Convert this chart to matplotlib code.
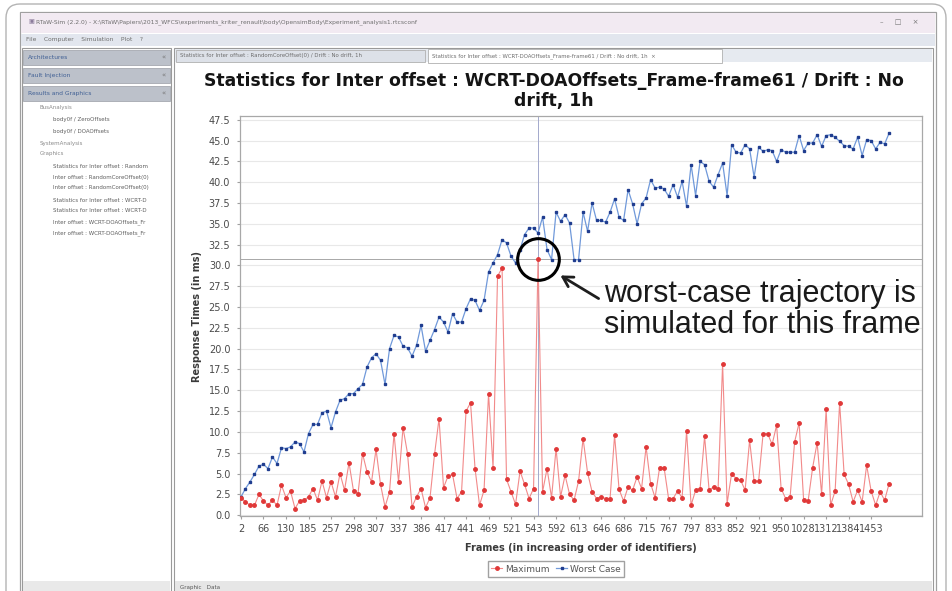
import matplotlib
matplotlib.use('Agg')
import matplotlib.pyplot as plt
import numpy as np
from matplotlib.patches import Rectangle, FancyBboxPatch
from matplotlib.transforms import IdentityTransform

W, H = 952, 591

# frame identifiers shown under every 5th category
frame_labels = ['2', '66', '130', '185', '257', '298', '307', '337', '386', '417',
                '441', '469', '521', '543', '592', '613', '646', '686', '715', '767',
                '797', '833', '852', '921', '950', '1028', '1312', '1384', '1453']

# response times (ms), one value per frame
worst_case = [2.2, 3.2, 4.0, 4.9, 5.9, 6.1, 5.6, 7.0, 6.2, 8.1,
              8.0, 8.2, 8.8, 8.6, 7.6, 9.8, 10.9, 10.9, 12.3, 12.5,
              10.5, 12.4, 13.8, 14.0, 14.6, 14.6, 15.2, 15.7, 17.8, 18.9,
              19.4, 18.6, 15.7, 20.0, 21.6, 21.4, 20.3, 20.1, 19.1, 20.4,
              22.8, 19.7, 21.0, 22.3, 23.8, 23.2, 22.0, 24.2, 23.2, 23.2,
              24.8, 26.0, 25.8, 24.6, 25.8, 29.2, 30.3, 31.3, 33.1, 32.7,
              31.1, 30.3, 31.9, 33.7, 34.5, 34.5, 33.9, 35.8, 31.9, 30.7,
              36.4, 35.3, 36.1, 35.1, 30.7, 30.7, 36.4, 34.1, 37.5, 35.4,
              35.4, 35.2, 36.4, 38.0, 35.8, 35.4, 39.1, 37.4, 35.0, 37.4,
              38.1, 40.3, 39.3, 39.4, 39.2, 38.3, 39.7, 38.2, 40.1, 37.1,
              42.1, 38.4, 42.5, 42.1, 40.1, 39.4, 40.9, 42.3, 38.4, 44.5,
              43.6, 43.5, 44.5, 44.0, 40.6, 44.2, 43.7, 43.9, 43.8, 42.5,
              43.9, 43.6, 43.6, 43.6, 45.6, 43.8, 44.7, 44.7, 45.7, 44.3,
              45.6, 45.7, 45.4, 44.9, 44.4, 44.3, 44.0, 45.4, 43.2, 45.1,
              45.0, 44.0, 44.8, 44.6, 45.9]

maximum = [2.1, 1.6, 1.2, 1.2, 2.5, 1.7, 1.2, 1.8, 1.2, 3.6,
           2.1, 2.9, 0.8, 1.7, 1.8, 2.2, 3.2, 1.8, 4.1, 2.1,
           4.0, 2.2, 5.0, 3.0, 6.3, 2.9, 2.6, 7.4, 5.2, 4.0,
           7.9, 3.7, 1.0, 2.8, 9.8, 4.0, 10.5, 7.4, 1.0, 2.2,
           3.2, 0.9, 2.1, 7.3, 11.6, 3.3, 4.7, 4.9, 2.0, 2.8,
           12.5, 13.5, 5.6, 1.2, 3.0, 14.6, 5.7, 28.7, 29.7, 4.3,
           2.8, 1.3, 5.3, 3.7, 2.0, 3.2, 30.8, 2.8, 5.6, 2.1,
           8.0, 2.2, 4.8, 2.5, 1.8, 4.1, 9.2, 5.1, 2.8, 2.0,
           2.2, 2.0, 2.0, 9.6, 3.1, 1.7, 3.4, 3.0, 4.6, 3.2,
           8.2, 3.8, 2.1, 5.7, 5.7, 2.0, 2.0, 2.9, 2.1, 10.1,
           1.2, 3.0, 3.2, 9.5, 3.0, 3.4, 3.2, 18.2, 1.4, 5.0,
           4.4, 4.2, 3.0, 9.0, 4.1, 4.1, 9.8, 9.8, 8.5, 10.8,
           3.2, 2.0, 2.2, 8.8, 11.1, 1.8, 1.7, 5.7, 8.7, 2.5,
           12.7, 1.2, 2.9, 13.5, 4.9, 3.7, 1.6, 3.0, 1.6, 6.0,
           2.9, 1.2, 2.8, 1.8, 3.8]

tree_items = [(40, 108, 'BusAnalysis'), (53, 120, 'body0f / ZeroOffsets'),
              (53, 131, 'body0f / DOAOffsets'), (40, 143, 'SystemAnalysis'),
              (40, 154, 'Graphics'),
              (53, 166, 'Statistics for Inter offset : Random'),
              (53, 177, 'Inter offset : RandomCoreOffset(0)'),
              (53, 188, 'Inter offset : RandomCoreOffset(0)'),
              (53, 200, 'Statistics for Inter offset : WCRT-D'),
              (53, 211, 'Statistics for Inter offset : WCRT-D'),
              (53, 222, 'Inter offset : WCRT-DOAOffsets_Fr'),
              (53, 233, 'Inter offset : WCRT-DOAOffsets_Fr')]

fig = plt.figure(figsize=(W / 100, H / 100), dpi=100)
fig.patch.set_facecolor('white')


def box(x0, y0, x1, y1, fc, ec='none', lw=0.8, z=-2):
    # screen rectangle, pixel coords measured from the top left corner
    fig.add_artist(Rectangle((x0, H - y1), x1 - x0, y1 - y0, transform=IdentityTransform(),
                             facecolor=fc, edgecolor=ec, linewidth=lw, zorder=z))


def label(x, y, s, size=4.3, color='#6e6e6e', **kw):
    fig.text(x / W, 1 - y / H, s, fontsize=size, color=color, va='center', **kw)


# outer frame and application window
fig.add_artist(FancyBboxPatch((6, -40), 940, H + 36, boxstyle='round,pad=0,rounding_size=14',
                              transform=IdentityTransform(), facecolor='white',
                              edgecolor='#b4b4b4', linewidth=1.0, zorder=-3))
box(20, 12, 936, 600, 'white', '#a0a0a0', 0.9)
box(21, 13, 935, 33, '#f2eaf2')
label(28, 22, '\u25a3', size=4.5, color='#8a7a9a')
label(36, 22, 'RTaW-Sim (2.2.0) - X:\\RTaW\\Papiers\\2013_WFCS\\experiments_kriter_renault\\body\\OpensimBody\\Experiment_analysis1.rtcsconf')
label(880, 22, '\u2013     \u25a1     \u00d7', size=5, color='#777777')
box(21, 34, 935, 46, '#e2e6ee')
label(26, 40, 'File    Computer    Simulation    Plot    ?')

# left navigation panel
box(22, 48, 171, 600, 'white', '#9a9a9a', 0.8)
for y0, txt in [(50, 'Architectures'), (68, 'Fault Injection'), (86, 'Results and Graphics')]:
    box(23, y0, 170, y0 + 15, '#bcc1ca', '#a5a9b0', 0.6, z=-1)
    label(28, y0 + 7.5, txt, color='#3f5f94')
    label(161, y0 + 7.5, '\u00ab', size=5, color='#777777')
for x0, y0, txt in tree_items:
    label(x0, y0, txt, size=4.0, color='#8a8a8a' if x0 == 40 else '#5e5e5e')
box(23, 581, 170, 591, '#e9e9e9')

# chart panel with its tabs
box(174, 48, 933, 600, 'white', '#9a9a9a', 0.8)
box(175, 49, 932, 62, '#e6eaf0')
box(176, 50, 425, 62, '#dde1e8', '#b0b0b0', 0.6, z=-1)
label(180, 56, 'Statistics for Inter offset : RandomCoreOffset(0) / Drift : No drift, 1h', size=3.9)
box(428, 49, 722, 63, 'white', '#b0b0b0', 0.6, z=-1)
label(432, 56, 'Statistics for Inter offset : WCRT-DOAOffsets_Frame-frame61 / Drift : No drift, 1h  \u00d7', size=3.9)
box(175, 581, 932, 591, '#e6e6e6')
label(180, 587, 'Graphic   Data', size=4.0, color='#555555')

# chart
ax = fig.add_axes([240 / W, 75 / H, 682 / W, 400 / H])
ax.set_facecolor('white')
x = np.arange(len(worst_case))
wc_line, = ax.plot(x, worst_case, color='#7099da', lw=0.9, marker='s', ms=2.1,
                   mfc='#203d8f', mec='#203d8f', label='Worst Case', zorder=3)
mx_line, = ax.plot(x, maximum, color='#f28a8a', lw=0.8, marker='o', ms=2.5,
                   mfc='#e03838', mec='#e03838', label='Maximum', zorder=4)

ax.set_xlim(-0.22, 151.3)
ax.set_ylim(-0.1, 47.95)
ax.set_yticks(np.arange(0, 47.6, 2.5))
ax.set_yticklabels([f'{v:.1f}' for v in np.arange(0, 47.6, 2.5)])
ax.set_xticks(np.arange(0, 5 * len(frame_labels), 5))
ax.set_xticklabels(frame_labels)
ax.tick_params(labelsize=7, labelcolor='#4a4a4a', length=2, color='#a0a0a0')
ax.tick_params(axis='y', pad=5)
ax.tick_params(axis='x', pad=4)
ax.yaxis.grid(True, color='#e8e8e8', lw=0.8)
ax.set_axisbelow(True)
for sp in ax.spines.values():
    sp.set_color('#a8a8a8')
    sp.set_linewidth(0.9)

ax.set_xlabel('Frames (in increasing order of identifiers)', fontsize=7, fontweight='bold',
              color='#3a3a3a', labelpad=6)
ax.set_ylabel('Response Times (in ms)', fontsize=7, fontweight='bold', color='#3a3a3a', labelpad=5)

# crosshair on the largest maximum
peak = int(np.argmax(maximum))
ax.axvline(peak, color='#a3a9cc', lw=0.7, zorder=2)
ax.axhline(maximum[peak], color='#a8a8a8', lw=0.7, zorder=2)
ax.plot(peak, maximum[peak], 'o', ms=30, mfc='none', mec='black', mew=2.2, zorder=6)

fig.text(554 / W, 1 - 91 / H,
         'Statistics for Inter offset : WCRT-DOAOffsets_Frame-frame61 / Drift : No\ndrift, 1h',
         ha='center', va='center', fontsize=12.4, fontweight='bold', color='#141414',
         linespacing=1.18)

fig.legend([mx_line, wc_line], ['Maximum', 'Worst Case'], loc='center',
           bbox_to_anchor=(556 / W, 1 - 569 / H), ncol=2, fontsize=6.5, frameon=True,
           fancybox=False, edgecolor='#8a8a8a', borderpad=0.35, handlelength=1.2,
           handletextpad=0.3, columnspacing=0.8, labelcolor='#555555')

# callout
ax.annotate('', xy=(558 / W, 1 - 274 / H), xycoords='figure fraction',
            xytext=(601 / W, 1 - 300 / H), textcoords='figure fraction',
            arrowprops=dict(arrowstyle='->,head_length=0.7,head_width=0.4', lw=2.0, color='#1e1e1e'))
fig.text(604 / W, 1 - 302 / H, 'worst-case trajectory is', fontsize=22,
         family='Liberation Sans', color='#1a1a1a', va='baseline')
fig.text(604 / W, 1 - 333 / H, 'simulated for this frame', fontsize=22,
         family='Liberation Sans', color='#1a1a1a', va='baseline')

fig.savefig('out.png', dpi=100)
